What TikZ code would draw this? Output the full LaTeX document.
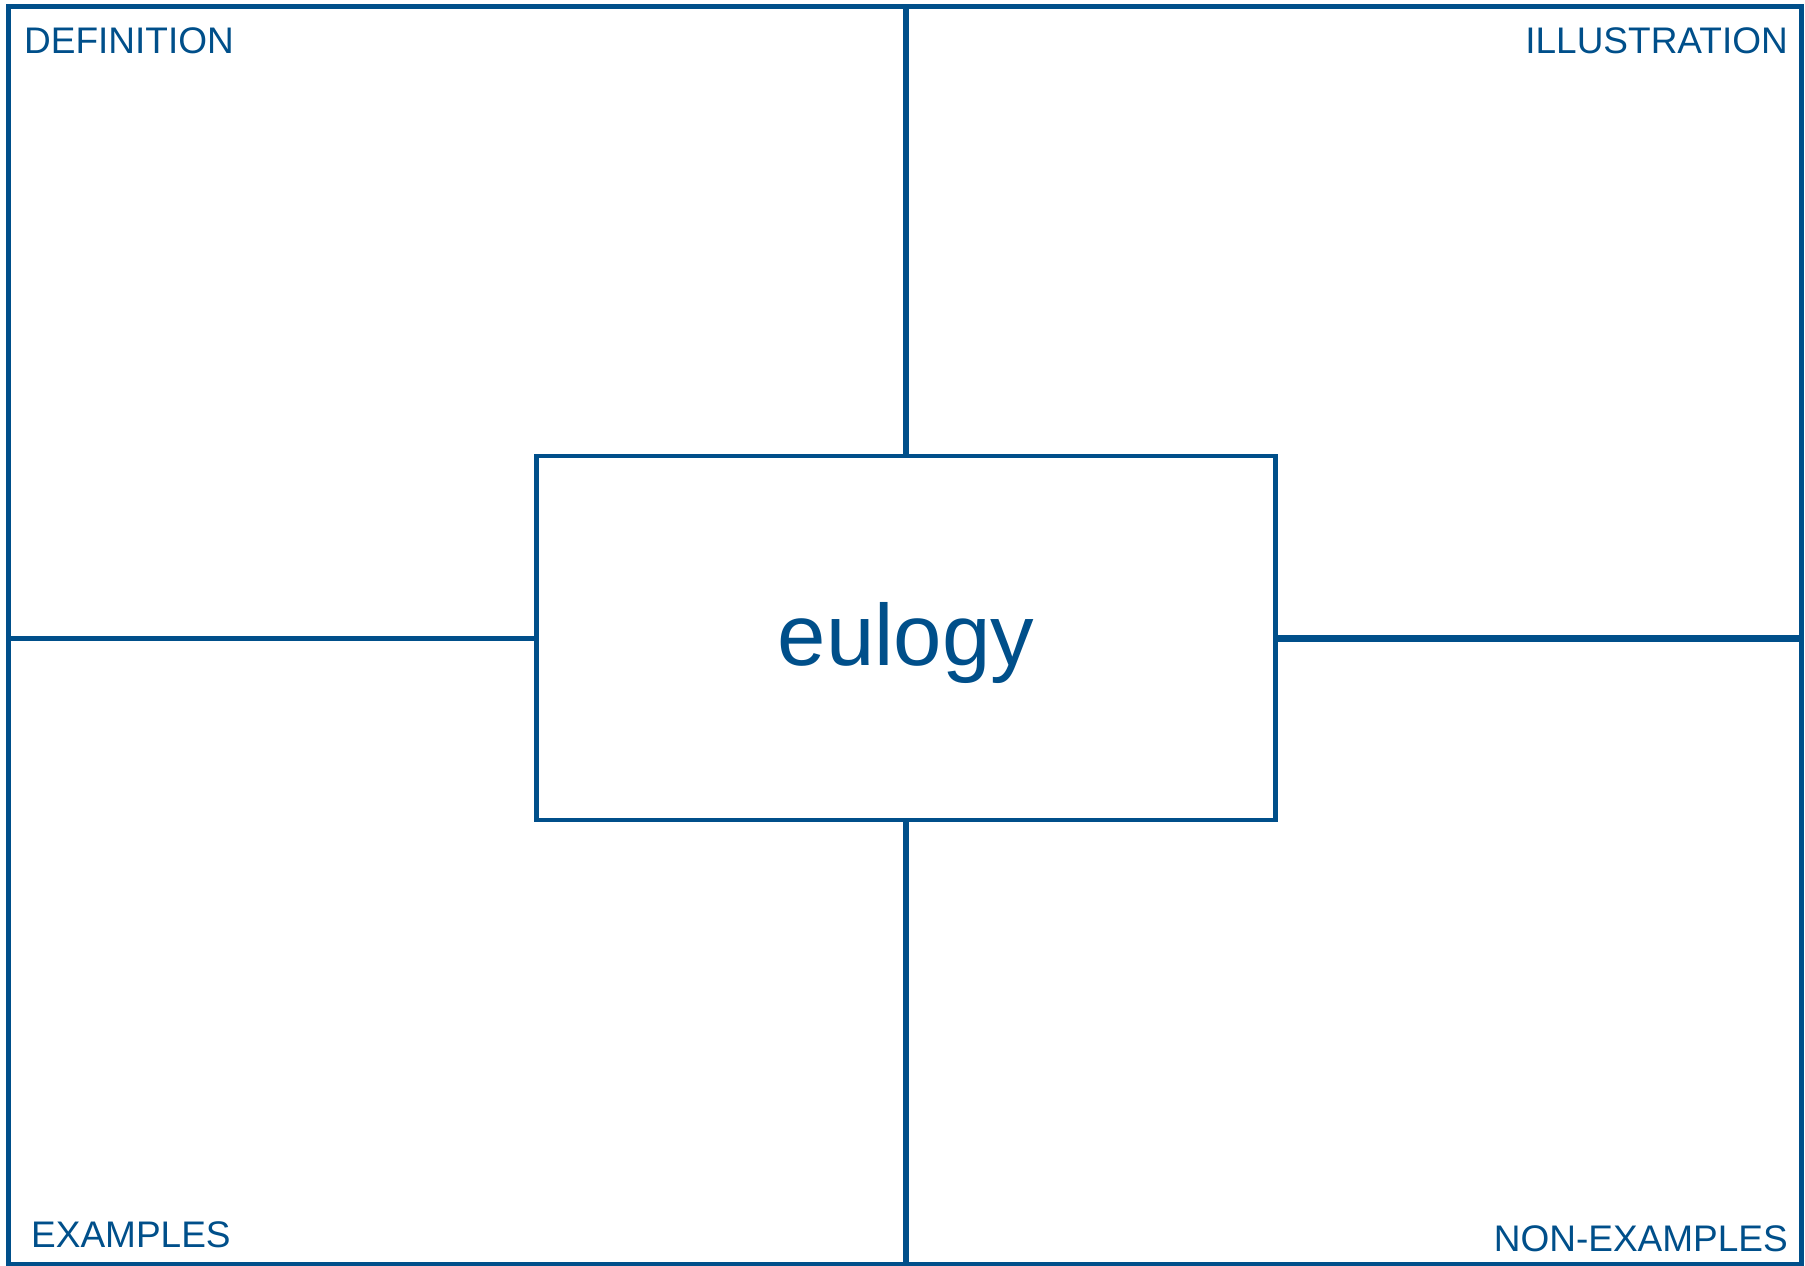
\documentclass[tikz,border=0pt]{standalone}
\usepackage{fontspec}
\setmainfont{Liberation Sans}
\usetikzlibrary{positioning}
\definecolor{frayerblue}{RGB}{0,79,138}

\begin{document}
\begin{tikzpicture}[
      x=1pt, y=-1pt,
      % Styles
      framebox/.style={
        rectangle, draw=frayerblue, line width=5pt,
        minimum width=1793pt, minimum height=1258pt, inner sep=0pt
      },
      wordbox/.style={
        rectangle, draw=frayerblue, line width=4.5pt, fill=white,
        minimum width=739pt, minimum height=364pt, inner sep=0pt,
        text=frayerblue, font=\fontsize{87}{100}\selectfont,
        text height=64pt, text depth=9pt
      },
      divider/.style={
        draw=frayerblue, line width=6pt
      },
      corner_text/.style={
        text=frayerblue, inner sep=0pt,
        font=\fontsize{37}{40}\selectfont
      }
    ]

    \useasboundingbox (0,0) rectangle (1805,1266);

    % --- frame and centre word ---
    \node[framebox] (frame) at (904.8,635) {};
    \node[wordbox] (word) at (906,638) {eulogy};

    % --- dividers ---
    \draw[divider] (word.north) -- (word.north |- frame.north);
    \draw[divider] (word.south) -- (word.south |- frame.south);
    \draw[divider, line width=5pt] (word.west) -- (word.west -| frame.west);
    \draw[divider, line width=7pt] (word.east) -- (word.east -| frame.east);

    % --- corner labels ---
    \node[corner_text, anchor=base west] (definition) at (24,53) {DEFINITION};
    \node[corner_text, anchor=base east] (illustration) at (1788,53) {ILLUSTRATION};
    \node[corner_text, anchor=base west] (examples) at (31,1247) {EXAMPLES};
    \node[corner_text, anchor=base east] (nonexamples) at (1788,1251) {NON-EXAMPLES};

\end{tikzpicture}
\end{document}
